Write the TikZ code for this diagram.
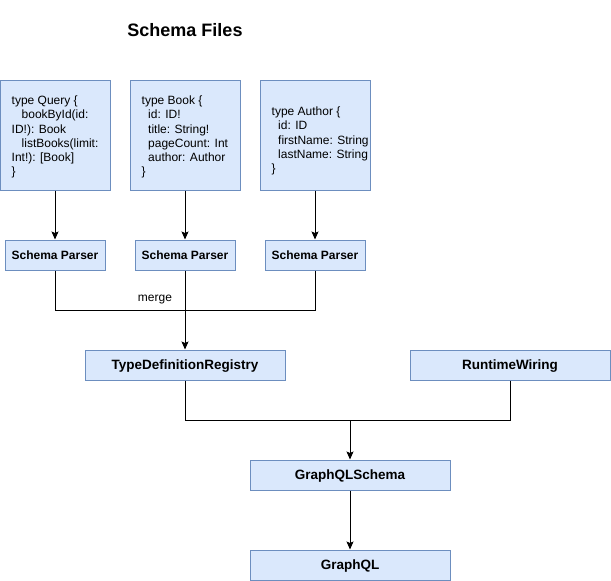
\documentclass[tikz,border=0pt]{standalone}
\usepackage{fontspec}
\setmainfont{Liberation Sans}
\usetikzlibrary{arrows.meta}
\definecolor{boxfill}{HTML}{DAE8FC}
\definecolor{boxdraw}{HTML}{6C8EBF}
\tikzset{
  bx/.style={draw=boxdraw, fill=boxfill, line width=1pt, inner sep=0pt, rectangle},
  codebox/.style={bx, minimum width=110pt, minimum height=110pt},
  parserbox/.style={bx, minimum width=100pt, minimum height=30pt, font=\fontsize{12pt}{14pt}\selectfont\bfseries},
  mainbox/.style={bx, minimum width=200pt, minimum height=30pt, text height=9.7pt, text depth=1.5pt, font=\fontsize{13.5pt}{16pt}\selectfont\bfseries},
  codetext/.style={anchor=west, align=left, inner sep=0pt, font=\fontsize{12pt}{14.2pt}\selectfont},
  conn/.style={line width=1pt, draw=black},
  arr/.style={conn, -{Stealth[length=8pt, width=7pt, inset=1.5pt]}},
}
\begin{document}
\begin{tikzpicture}[x=1pt, y=-1pt]
\useasboundingbox (0,0) rectangle (611,581);
\node[font=\fontsize{18pt}{20pt}\selectfont\bfseries, inner sep=0pt] (title) at (185,30) {Schema Files};

\node[codebox] (q) at (55,135) {};
\node[codebox] (b) at (185,135) {};
\node[codebox] (a) at (315,135) {};

\node[codetext] (qt) at ([xshift=12pt,yshift=-2pt]q.west) {type Query \{\\\hspace*{10pt}bookById(id:\\ID!): Book\\\hspace*{10pt}listBooks(limit:\\Int!): [Book]\\\}};
\node[codetext] (bt) at ([xshift=12pt,yshift=-2pt]b.west) {type Book \{\\\hspace*{6.5pt}id: ID!\\\hspace*{6.5pt}title: String!\\\hspace*{6.5pt}pageCount: Int\\\hspace*{6.5pt}author: Author\\\}};
\node[codetext] (at) at ([xshift=12pt,yshift=-6pt]a.west) {type Author \{\\\hspace*{6.5pt}id: ID\\\hspace*{6.5pt}firstName: String\\\hspace*{6.5pt}lastName: String\\\}};

\node[parserbox] (p1) at (55,255) {Schema Parser};
\node[parserbox] (p2) at (185,255) {Schema Parser};
\node[parserbox] (p3) at (315,255) {Schema Parser};

\draw[arr] (q.south) -- (p1.north);
\draw[arr] (b.south) -- (p2.north);
\draw[arr] (a.south) -- (p3.north);

\coordinate (m1) at (185,310);
\node[mainbox] (tdr) at (185,365) {TypeDefinitionRegistry};
\node[mainbox] (rw) at (510,365) {RuntimeWiring};
\node[mainbox] (gs) at (350,475) {GraphQLSchema};
\node[mainbox] (gq) at (350,565) {GraphQL};

\draw[conn] (p1.south) |- (m1);
\draw[conn] (p3.south) |- (m1);
\draw[arr] (p2.south) -- (tdr.north);
\node[font=\fontsize{12pt}{14pt}\selectfont, inner sep=0pt] (mergelbl) at (155,300) {merge};

\coordinate (m2) at (350,420);
\draw[conn] (tdr.south) |- (m2);
\draw[conn] (rw.south) |- (m2);
\draw[arr] (m2) -- (gs.north);
\draw[arr] (gs.south) -- (gq.north);
\end{tikzpicture}
\end{document}
